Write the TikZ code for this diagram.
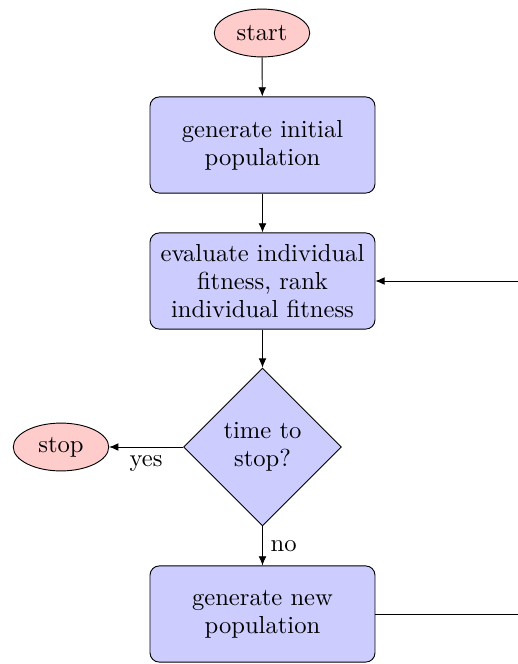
\documentclass[tikz,border=0pt]{standalone}
\usetikzlibrary{shapes.geometric,arrows.meta}
\tikzset{
  px/.style={x=0.4348pt,y=-0.4348pt},
  every node/.style={font=\fontsize{10.7}{12.3}\selectfont},
  blockbox/.style={rectangle,draw,fill=blue!20,rounded corners=4pt,minimum width=97.8pt,minimum height=41.8pt,text width=92pt,align=center,inner sep=0pt},
  cloud/.style={ellipse,draw,fill=red!20,minimum width=41.5pt,minimum height=20.8pt,inner sep=0pt},
  decision/.style={diamond,draw,fill=blue!20,minimum width=68.7pt,minimum height=68.7pt,inner sep=0pt,text width=40pt,align=center},
  line/.style={draw,-{Latex[length=4pt,width=3.4pt]}},
}
\hyphenpenalty=10000
\begin{document}
\begin{tikzpicture}[px]
\useasboundingbox (0,0) rectangle (518,664);
\node[cloud] (start) at (262,33) {start};
\node[blockbox] (init) at (262.5,145) {generate initial population};
\node[blockbox] (eval) at (262.5,281) {evaluate individual fitness, rank individual fitness};
\node[decision] (dec) at (262.5,447) {time to stop?};
\node[cloud] (stop) at (61,447) {stop};
\node[blockbox] (gen) at (262.5,614) {generate new population};
\coordinate (fb) at (540,614);
\path[line] (start) -- (init);
\path[line] (init) -- (eval);
\path[line] (eval) -- (dec);
\path[line] (dec) -- node[below,pos=0.5] {yes} (stop);
\path[line] (dec) -- node[right,pos=0.5] {no} (gen);
\path[line] (gen.east) -- (fb) |- (eval.east);
\end{tikzpicture}
\end{document}
